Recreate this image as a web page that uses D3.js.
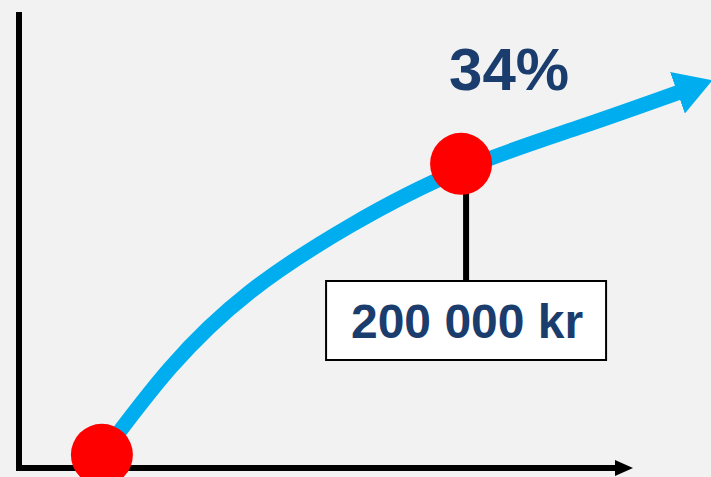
<!DOCTYPE html>
<html>
<head>
<meta charset="utf-8">
<script src="https://cdn.jsdelivr.net/npm/d3@7"></script>
<style>
  html, body { margin: 0; padding: 0; background: #f2f2f2; }
  svg { display: block; }
</style>
</head>
<body>
<div id="chart"></div>
<script>
// growth curve (x = time, y = value, arbitrary units)
let curveX = [1.35, 2.46, 3.76, 5.39, 7.20, 9.14, 10.77];
let curveY = [2.85, 21.9, 38.6, 53.1, 65.4, 74.8, 82.5];

// highlighted points
let pointX = [1.35, 7.20];
let pointY = [2.9, 66.7];

// labels
let percentLabel = "34%";
let amountLabel = "200 000 kr";

// set the dimensions and margins of the graph
let margin = {top: 12, right: 78, bottom: 9, left: 19},
    width = 711 - margin.left - margin.right,
    height = 477 - margin.top - margin.bottom;

let SVG = d3.select("#chart")
    .append("svg")
    .attr("width", width + margin.left + margin.right)
    .attr("height", height + margin.top + margin.bottom)
    .style("background-color", "#f2f2f2")
    .append("g")
    .attr("transform", "translate(" + margin.left + "," + margin.top + ")");

let x = d3.scaleLinear().domain([0, 10]).range([0, width]);
let y = d3.scaleLinear().domain([0, 100]).range([height, 0]);

let defs = d3.select("svg").append("defs");

// arrow head for the curve
defs.append("marker")
    .attr("id", "blueHead")
    .attr("markerUnits", "userSpaceOnUse")
    .attr("viewBox", "0 -23 38 46")
    .attr("markerWidth", 38)
    .attr("markerHeight", 46)
    .attr("refX", 3)
    .attr("refY", 0)
    .attr("orient", "auto")
    .append("path")
    .attr("d", "M0,-22L37,0L0,22Z")
    .attr("fill", "#00aeef");

// Y axis
SVG.append("line")
    .attr("x1", x(0)).attr("x2", x(0))
    .attr("y1", y(100)).attr("y2", y(0) + 3)
    .attr("stroke", "black")
    .attr("stroke-width", 6);

// X axis
SVG.append("line")
    .attr("x1", x(0) - 3).attr("x2", x(10) - 16)
    .attr("y1", y(0)).attr("y2", y(0))
    .attr("stroke", "black")
    .attr("stroke-width", 6);
SVG.append("path")
    .attr("d", "M" + (x(10) - 18) + "," + (y(0) - 8) + "L" + x(10) + "," + y(0) + "L" + (x(10) - 18) + "," + (y(0) + 8) + "Z")
    .attr("fill", "black");

// the growth curve
let line = d3.line()
    .x(function (d) { return x(d[0]); })
    .y(function (d) { return y(d[1]); })
    .curve(d3.curveNatural);

SVG.append("path")
    .datum(d3.zip(curveX, curveY))
    .attr("d", line)
    .attr("fill", "none")
    .attr("stroke", "#00aeef")
    .attr("stroke-width", 15)
    .attr("marker-end", "url(#blueHead)");

// label box under the second point
let boxCx = x(pointX[1]) + 5,
    boxTop = 269,
    boxW = 280,
    boxH = 79;

SVG.append("line")
    .attr("x1", boxCx).attr("x2", boxCx)
    .attr("y1", y(pointY[1])).attr("y2", boxTop)
    .attr("stroke", "black")
    .attr("stroke-width", 6);

SVG.append("rect")
    .attr("x", boxCx - boxW / 2)
    .attr("y", boxTop)
    .attr("width", boxW)
    .attr("height", boxH)
    .attr("fill", "white")
    .attr("stroke", "black")
    .attr("stroke-width", 2);

SVG.append("text")
    .attr("x", boxCx + 1)
    .attr("y", boxTop + 57)
    .attr("text-anchor", "middle")
    .style("font-family", "Liberation Sans, Arial, sans-serif")
    .style("font-weight", "bold")
    .style("font-size", "48px")
    .style("fill", "#1b3d6d")
    .text(amountLabel);

// red points
SVG.selectAll("circle")
    .data(d3.zip(pointX, pointY))
    .enter()
    .append("circle")
    .attr("cx", function (d) { return x(d[0]); })
    .attr("cy", function (d) { return y(d[1]); })
    .attr("r", 31)
    .style("fill", "#ff0000");

// percentage label
SVG.append("text")
    .attr("x", x(pointX[1]) + 48)
    .attr("y", 78)
    .attr("text-anchor", "middle")
    .style("font-family", "Liberation Sans, Arial, sans-serif")
    .style("font-weight", "bold")
    .style("font-size", "60px")
    .style("fill", "#1b3d6d")
    .text(percentLabel);
</script>
</body>
</html>
